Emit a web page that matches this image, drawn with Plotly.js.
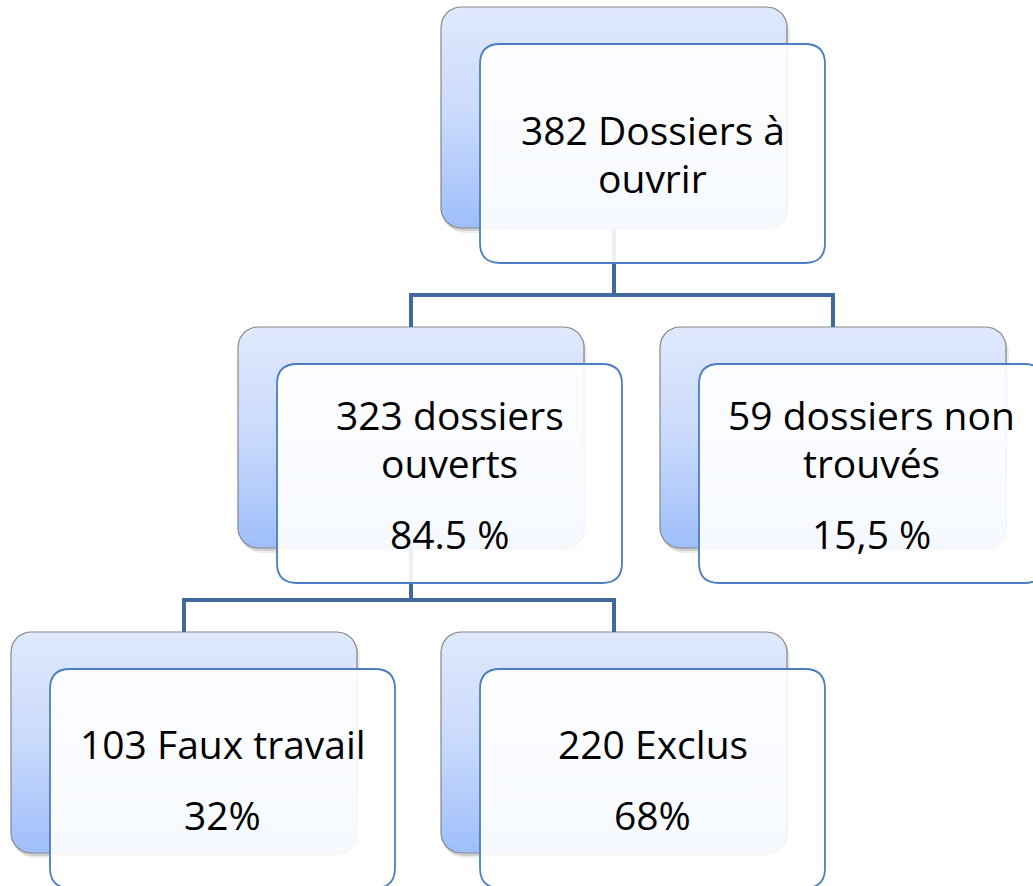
<!DOCTYPE html>
<html>
<head>
<meta charset="utf-8">
<script src="https://cdn.plot.ly/plotly-3.0.1.min.js"></script>
<style>html,body{margin:0;padding:0;background:#fff;}#chart{width:1033px;height:886px;}</style>
</head>
<body>
<div id="chart"></div>
<script>
// ---- chart data ----
const nodeCounts = [382, 323, 59, 103, 220];
const nodeNames = ["Dossiers à ouvrir", "dossiers ouverts", "dossiers non trouvés", "Faux travail", "Exclus"];
const nodeLines = [["382 Dossiers à", "ouvrir"], ["323 dossiers", "ouverts"], ["59 dossiers non", "trouvés"], ["103 Faux travail"], ["220 Exclus"]];
const nodePercents = ["", "84.5 %", "15,5 %", "32%", "68%"];
const nodeParents = [-1, 0, 0, 1, 1];

// ---- layout (positions of the back boxes, pixels) ----
const boxLeft = [441, 238, 660, 11, 441];
const boxTop = [7, 327, 327, 632, 632];
const BW = 346, BH = 221, FDX = 39, FDY = 37, FW = 345, FH = 219, R = 20;
const lineGap = 48, pctGap = 71;

function rrPoints(x0, y0, x1, y1, r) {
  const xs = [], ys = [];
  const corners = [[x1 - r, y0 + r, -90, 0], [x1 - r, y1 - r, 0, 90], [x0 + r, y1 - r, 90, 180], [x0 + r, y0 + r, 180, 270]];
  corners.forEach(c => {
    for (let i = 0; i <= 10; i++) {
      const a = (c[2] + (c[3] - c[2]) * i / 10) * Math.PI / 180;
      xs.push(c[0] + r * Math.cos(a)); ys.push(c[1] + r * Math.sin(a));
    }
  });
  xs.push(xs[0]); ys.push(ys[0]);
  return {xs, ys};
}
function rrPath(x0, y0, x1, y1, r) {
  return `M${x0 + r},${y0} H${x1 - r} Q${x1},${y0} ${x1},${y0 + r} V${y1 - r} Q${x1},${y1} ${x1 - r},${y1} H${x0 + r} Q${x0},${y1} ${x0},${y1 - r} V${y0 + r} Q${x0},${y0} ${x0 + r},${y0} Z`;
}

const traces = [];
const shapes = [];
const annotations = [];

// shadows + back boxes
nodeCounts.forEach((c, i) => {
  const x0 = boxLeft[i], y0 = boxTop[i];
  [[4, 5, 0.07], [2, 3, 0.12]].forEach(s => {
    const p = rrPoints(x0 + s[0] - 1, y0 + s[1], x0 + BW + s[0] - 1, y0 + BH + s[1], R);
    traces.push({x: p.xs, y: p.ys, mode: 'lines', fill: 'toself', line: {width: 0}, fillcolor: `rgba(0,0,0,${s[2]})`, hoverinfo: 'skip', showlegend: false});
  });
  const p = rrPoints(x0, y0, x0 + BW, y0 + BH, R);
  traces.push({
    x: p.xs, y: p.ys, mode: 'lines', fill: 'toself',
    line: {color: '#878787', width: 1.2},
    fillgradient: {type: 'vertical', start: y0, stop: y0 + BH, colorscale: [[0, '#e0e9fc'], [0.5, '#c9dafc'], [1, '#9ebefa']]},
    hoverinfo: 'skip', showlegend: false
  });
});

// connectors
const connColor = '#41699d';
nodeParents.forEach((par, i) => {
  if (par < 0) return;
  const px = boxLeft[par] + BW / 2, py = boxTop[par] + BH;
  const cx = boxLeft[i] + BW / 2, cy = boxTop[i];
  const midY = cy - 32;
  shapes.push({type: 'path', xref: 'x', yref: 'y', path: `M${px},${py} V${midY} H${cx} V${cy}`, line: {color: connColor, width: 4}, layer: 'above'});
});

// front boxes and text
nodeCounts.forEach((c, i) => {
  const x0 = boxLeft[i] + FDX, y0 = boxTop[i] + FDY;
  shapes.push({type: 'path', xref: 'x', yref: 'y', path: rrPath(x0, y0, x0 + FW, y0 + FH, R), fillcolor: 'rgba(255,255,255,0.9)', line: {color: '#4a7ebf', width: 1.8}, layer: 'above'});
  const lines = nodeLines[i].slice();
  const ys = [];
  let y = 0;
  lines.forEach((l, k) => { ys.push(y); if (k < lines.length - 1) y += lineGap; });
  if (nodePercents[i]) { y += pctGap; lines.push(nodePercents[i]); ys.push(y); }
  const cyc = y0 + FH / 2 - y / 2;
  const cxc = x0 + FW / 2;
  lines.forEach((l, k) => {
    annotations.push({x: cxc, y: cyc + ys[k], xref: 'x', yref: 'y', text: l, showarrow: false, xanchor: 'center', yanchor: 'middle', font: {family: 'Open Sans, sans-serif', size: 39, color: '#000'}});
  });
});

const layout = {
  width: 1033, height: 886,
  margin: {l: 0, r: 0, t: 0, b: 0},
  paper_bgcolor: '#fff', plot_bgcolor: '#fff',
  xaxis: {range: [0, 1033], visible: false, fixedrange: true},
  yaxis: {range: [886, 0], visible: false, fixedrange: true},
  shapes, annotations, showlegend: false
};
Plotly.newPlot('chart', traces, layout, {displayModeBar: false, staticPlot: true});
</script>
</body>
</html>
